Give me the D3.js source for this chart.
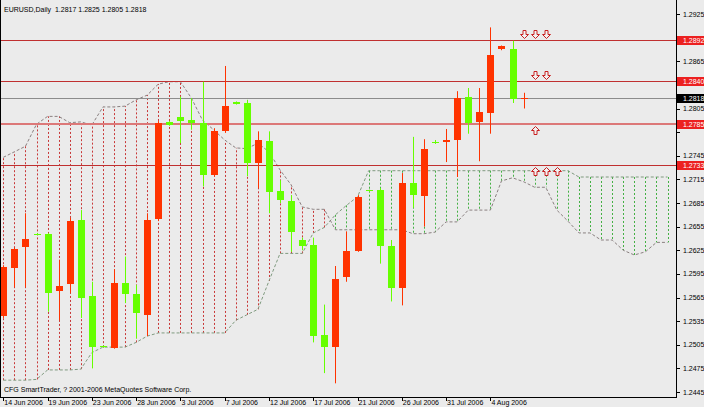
<!DOCTYPE html>
<html><head><meta charset="utf-8">
<script src="https://cdn.jsdelivr.net/npm/d3@7"></script>
<style>body{margin:0;background:#ebebeb}svg{display:block}</style>
</head><body><svg id="c" width="704" height="407"></svg>
<script>
// ---- data ----
const symbolTitle = "EURUSD,Daily  1.2817 1.2825 1.2805 1.2818";
const copyright = "CFG SmartTrader, ? 2001-2006 MetaQuotes Software Corp.";
const dateLabels = ["14 Jun 2006","19 Jun 2006","23 Jun 2006","28 Jun 2006","3 Jul 2006","7 Jul 2006","12 Jul 2006","17 Jul 2006","21 Jul 2006","26 Jul 2006","31 Jul 2006","4 Aug 2006"];
const dateLabelBars = [0,4,8,12,16,20,24,28,32,36,40,44];
const priceTicks = [1.2925,1.2895,1.2865,1.2835,1.2805,1.2775,1.2745,1.2715,1.2685,1.2655,1.2625,1.2595,1.2565,1.2535,1.2505,1.2475,1.2445];
const open  = [1.2541,1.2602,1.2629,1.2646,1.2645,1.2573,1.2582,1.2663,1.2567,1.2503,1.2501,1.2584,1.2569,1.2543,1.2665,1.2788,1.2794,1.2790,1.2786,1.2721,1.2776,1.2813,1.2812,1.2736,1.2764,1.2700,1.2688,1.2638,1.2632,1.2517,1.2502,1.2591,1.2624,1.2701,1.2701,1.2630,1.2577,1.2711,1.2694,1.2762,1.2762,1.2765,1.2819,1.2788,1.2799,1.2880,1.2881,1.2817];
const high  = [1.2606,1.2628,1.2672,1.2647,1.2647,1.2613,1.2666,1.2676,1.2585,1.2504,1.2601,1.2617,1.2581,1.2672,1.2789,1.2789,1.2820,1.2818,1.2839,1.2780,1.2859,1.2814,1.2816,1.2776,1.2776,1.2714,1.2695,1.2641,1.2641,1.2556,1.2605,1.2649,1.2695,1.2702,1.2704,1.2638,1.2723,1.2769,1.2766,1.2765,1.2779,1.2827,1.2831,1.2831,1.2908,1.2885,1.2891,1.2825];
const low   = [1.2539,1.2578,1.2578,1.2644,1.2547,1.2536,1.2571,1.2539,1.2475,1.2501,1.2500,1.2558,1.2513,1.2516,1.2662,1.2783,1.2761,1.2778,1.2706,1.2719,1.2774,1.2810,1.2719,1.2704,1.2672,1.2685,1.2623,1.2625,1.2508,1.2469,1.2456,1.2585,1.2623,1.2699,1.2608,1.2560,1.2555,1.2679,1.2655,1.2760,1.2737,1.2718,1.2773,1.2738,1.2773,1.2879,1.2812,1.2805];
const close = [1.2604,1.2627,1.2639,1.2645,1.2571,1.2580,1.2662,1.2565,1.2502,1.2502,1.2584,1.2570,1.2545,1.2663,1.2787,1.2784,1.2789,1.2787,1.2721,1.2776,1.2808,1.2811,1.2736,1.2765,1.2699,1.2689,1.2648,1.2630,1.2516,1.2502,1.2589,1.2624,1.2693,1.2700,1.2630,1.2577,1.2710,1.2695,1.2754,1.2761,1.2765,1.2818,1.2787,1.2801,1.2873,1.2884,1.2817,1.2818];
// Ichimoku Senkou spans (shifted forward, bars 0..60)
const spanA = [1.2460,1.2460,1.2460,1.2461,1.2473,1.2473,1.2473,1.2474,1.2495,1.2502,1.2502,1.2502,1.2508,1.2516,1.2520,1.2520,1.2520,1.2520,1.2520,1.2520,1.2520,1.2536,1.2543,1.2550,1.2586,1.2621,1.2621,1.2621,1.2647,1.2654,1.2670,1.2682,1.2693,1.2726,1.2726,1.2726,1.2726,1.2726,1.2726,1.2726,1.2726,1.2726,1.2726,1.2726,1.2726,1.2726,1.2726,1.2726,1.2726,1.2726,1.2726,1.2726,1.2718,1.2718,1.2718,1.2718,1.2718,1.2718,1.2718,1.2718,1.2718];
const spanB = [1.2743,1.2750,1.2757,1.2785,1.2795,1.2795,1.2787,1.2788,1.2784,1.2807,1.2807,1.2808,1.2816,1.2822,1.2836,1.2839,1.2839,1.2818,1.2790,1.2778,1.2765,1.2755,1.2754,1.2761,1.2750,1.2727,1.2708,1.2680,1.2677,1.2677,1.2651,1.2651,1.2651,1.2651,1.2651,1.2651,1.2651,1.2646,1.2646,1.2648,1.2661,1.2661,1.2676,1.2676,1.2676,1.2713,1.2717,1.2712,1.2705,1.2705,1.2676,1.2662,1.2647,1.2647,1.2638,1.2638,1.2625,1.2619,1.2623,1.2635,1.2635];
const levelPrices = [1.2892,1.2840,1.2785,1.2733];
const levelLabels = ["1.2892","1.2840","1.2785","1.2733"];
const bidPrice = 1.2818, bidLabel = "1.2818";
const arrowBars   = [47,48,49, 48,49, 48, 48,49,50];
const arrowLevels = [1.2892,1.2892,1.2892, 1.2840,1.2840, 1.2785, 1.2733,1.2733,1.2733];
const arrowDirs   = ["down","down","down","down","down","up","up","up","up"];

// ---- drawing ----
const W=704,H=407, plotR=676, plotB=397;
const svg=d3.select("#c");
const font="'Liberation Sans', Arial, sans-serif";
svg.append("rect").attr("width",W).attr("height",H).attr("fill","#ebebeb");

const x=d3.scaleLinear().domain([0,47]).range([3.3,523.6]);
const y=d3.scaleLinear().domain([1.2445,1.2925]).range([392,14]);
const px=v=>Math.round(x(v))+0.5;
const py=v=>Math.round(y(v))+0.5;

svg.append("defs").append("clipPath").attr("id","clip").append("rect").attr("x",0).attr("y",0).attr("width",plotR).attr("height",plotB);
const g=svg.append("g").attr("clip-path","url(#clip)");

// cloud verticals
const cloud=d3.range(spanA.length).map(i=>({i,a:spanA[i],b:spanB[i]}));
g.append("g").selectAll("line").data(cloud).join("line")
  .attr("x1",d=>px(d.i)).attr("x2",d=>px(d.i))
  .attr("y1",d=>y(d.a)).attr("y2",d=>y(d.b))
  .attr("stroke",d=>d.a>d.b?"#44b044":"#c83838")
  .attr("stroke-width",1).attr("stroke-dasharray","2,2");
// span lines
const lineA=d3.line().x((d,i)=>x(i)).y(d=>y(d));
g.append("path").attr("d",lineA(spanA)).attr("fill","none").attr("stroke","#7f9a7f").attr("stroke-dasharray","3,2");
g.append("path").attr("d",lineA(spanB)).attr("fill","none").attr("stroke","#8a8080").attr("stroke-dasharray","3,2");

// horizontal level lines
g.append("line").attr("x1",0).attr("x2",plotR).attr("y1",py(bidPrice)).attr("y2",py(bidPrice)).attr("stroke","#8c8c8c");
levelPrices.forEach((p,k)=>{
  const thick = k===2;
  g.append("line").attr("x1",0).attr("x2",plotR)
   .attr("y1",thick?Math.round(y(p)):py(p)).attr("y2",thick?Math.round(y(p)):py(p))
   .attr("stroke",thick?"#dc7878":"#c03030").attr("stroke-width",thick?2:1);
});

// candles
const bars=d3.range(open.length).map(i=>({i,o:open[i],h:high[i],l:low[i],c:close[i]}));
const col=d=>d.c>=d.o?"#ff3300":"#66ff00";
const cg=g.append("g");
cg.selectAll("line.w").data(bars).join("line").attr("class","w")
  .attr("x1",d=>px(d.i)).attr("x2",d=>px(d.i))
  .attr("y1",d=>y(d.h)).attr("y2",d=>y(d.l)).attr("stroke",col);
cg.selectAll("rect").data(bars).join("rect")
  .attr("x",d=>Math.round(x(d.i))-3).attr("width",7)
  .attr("y",d=>Math.round(y(Math.max(d.o,d.c))))
  .attr("height",d=>Math.max(1,Math.round(y(Math.min(d.o,d.c)))-Math.round(y(Math.max(d.o,d.c)))))
  .attr("fill",col);

// arrows
function arrowPath(cx,tip,dir){
  const s = dir==="down"?-1:1;
  const hw=4, sw=1.5, hh=4, L=8;
  return `M${cx},${tip} L${cx+hw},${tip+s*hh} L${cx+sw},${tip+s*hh} L${cx+sw},${tip+s*L} L${cx-sw},${tip+s*L} L${cx-sw},${tip+s*hh} L${cx-hw},${tip+s*hh} Z`;
}
g.append("g").selectAll("path").data(arrowBars.map((b,k)=>({b,p:arrowLevels[k],d:arrowDirs[k]}))).join("path")
  .attr("d",d=>{const cx=Math.round(x(d.b))+0.5; const ly=y(d.p); return arrowPath(cx, d.d==="down"?Math.round(ly)-1.5:Math.round(ly)+2.5, d.d);})
  .attr("fill","#f2f2f2").attr("stroke","#c82020").attr("stroke-width",1);

// frame / axes
svg.append("line").attr("x1",0.5).attr("x2",0.5).attr("y1",0).attr("y2",plotB).attr("stroke","#000");
svg.append("line").attr("x1",plotR+0.5).attr("x2",plotR+0.5).attr("y1",0).attr("y2",plotB+0.5).attr("stroke","#000");
svg.append("line").attr("x1",0).attr("x2",plotR+1).attr("y1",plotB+0.5).attr("y2",plotB+0.5).attr("stroke","#000");

// right price axis (labels hidden under price tags are not drawn, as in the reference)
const tagPrices = levelPrices.concat([bidPrice]);
const visibleTicks = priceTicks.filter(t=>tagPrices.every(p=>Math.abs(y(p)-y(t))>=8));
const ya=svg.append("g");
ya.selectAll("line").data(priceTicks).join("line")
  .attr("x1",plotR).attr("x2",plotR+4).attr("y1",d=>py(d)).attr("y2",d=>py(d)).attr("stroke","#000");
ya.selectAll("text").data(visibleTicks).join("text")
  .attr("x",plotR+7).attr("y",d=>y(d)+2.5).text(d=>d.toFixed(4))
  .attr("font-family",font).attr("font-size",7).attr("fill","#000");

// highlighted price labels
function tag(p,label,bg){
  const yy=Math.round(y(p));
  svg.append("rect").attr("x",plotR+1).attr("y",yy-4).attr("width",W-plotR-1).attr("height",9).attr("fill",bg);
  svg.append("text").attr("x",plotR+7).attr("y",yy+3).text(label)
    .attr("font-family",font).attr("font-size",7).attr("fill","#fff");
}
levelPrices.forEach((p,k)=>tag(p,levelLabels[k],"#ec2020"));
tag(bidPrice,bidLabel,"#000");

// bottom date axis
const xa=svg.append("g");
xa.selectAll("line").data(dateLabelBars).join("line")
  .attr("x1",d=>px(d)).attr("x2",d=>px(d)).attr("y1",plotB).attr("y2",plotB+4).attr("stroke","#000");
xa.selectAll("text").data(dateLabelBars).join("text")
  .attr("x",d=>x(d)+1).attr("y",405).text((d,k)=>dateLabels[k])
  .attr("font-family",font).attr("font-size",7).attr("fill","#000");

// texts
svg.append("text").attr("x",4).attr("y",12).text(symbolTitle).style("white-space","pre")
  .attr("font-family",font).attr("font-size",7).attr("fill","#000");
svg.append("text").attr("x",4).attr("y",392).text(copyright)
  .attr("font-family",font).attr("font-size",7).attr("fill","#000");
</script></body></html>
